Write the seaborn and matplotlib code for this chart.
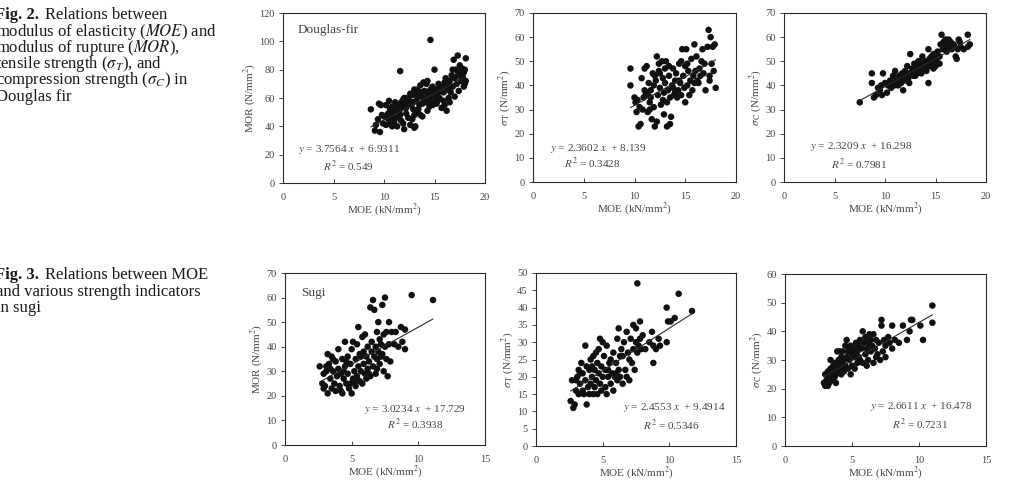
import matplotlib
matplotlib.use("Agg")
import matplotlib.pyplot as plt
import seaborn as sns
import pandas as pd
import numpy as np

# ---- Douglas-fir (Fig. 2) : MOE (kN/mm2) vs strength (N/mm2) ----
dfir_mor = [
    (8.7, 52), (9.1, 37), (9.6, 36), (9.2, 41), (9.5, 56), (9.7, 55), (9.8, 48), (10.0, 47), (9.9, 42), (9.4, 45),
    (10.2, 41), (10.3, 46), (10.5, 58), (10.6, 52), (10.4, 49), (10.7, 44), (10.8, 40), (10.9, 48), (11.0, 50),
    (10.5, 42), (10.2, 55), (10.8, 54), (11.0, 43), (10.6, 47),
    (11.1, 57), (11.2, 46), (11.3, 40), (11.5, 50), (11.6, 79), (11.7, 44), (11.8, 53), (11.9, 59), (12.0, 38),
    (11.4, 55), (11.6, 48), (11.9, 42), (12.0, 60), (11.2, 52), (11.7, 57),
    (12.1, 56), (12.2, 49), (12.3, 60), (12.4, 46), (12.5, 58), (12.6, 41), (12.7, 55), (12.8, 62), (12.9, 52),
    (13.0, 39), (13.0, 48), (12.2, 53), (12.6, 63), (12.8, 45), (12.4, 59), (12.9, 57), (13.0, 66),
    (13.1, 40), (13.2, 58), (13.3, 66), (13.4, 52), (13.5, 61), (13.6, 48), (13.7, 64), (13.8, 56), (13.9, 71),
    (14.0, 59), (13.2, 62), (13.5, 55), (13.8, 47), (14.0, 65), (13.6, 69), (13.3, 50), (13.9, 60),
    (14.1, 57), (14.2, 70), (14.3, 51), (14.4, 62), (14.5, 58), (14.6, 101), (14.6, 66), (14.7, 60), (14.8, 55),
    (14.9, 64), (15.0, 80), (15.0, 59), (14.2, 64), (14.5, 54), (14.8, 68), (14.3, 72), (14.9, 57),
    (15.1, 66), (15.2, 56), (15.3, 63), (15.4, 70), (15.5, 60), (15.6, 65), (15.7, 53), (15.8, 68), (15.9, 58),
    (16.0, 71), (15.2, 62), (15.5, 67), (15.9, 64), (15.3, 58), (16.0, 55),
    (16.1, 74), (16.2, 51), (16.3, 66), (16.4, 60), (16.5, 72), (16.6, 64), (16.7, 76), (16.8, 68), (16.9, 87),
    (17.0, 61), (16.2, 70), (16.5, 57), (16.8, 80), (17.0, 74), (16.4, 68),
    (17.1, 80), (17.2, 70), (17.3, 90), (17.4, 65), (17.5, 78), (17.6, 72), (17.7, 81), (17.8, 75), (17.9, 68),
    (18.0, 80), (18.1, 88), (18.1, 72), (17.3, 76), (17.6, 79), (17.9, 78), (18.0, 70), (17.5, 83),
]
dfir_st = [
    (9.6, 47), (9.6, 40), (10.0, 35), (10.2, 29), (10.4, 23), (10.6, 24), (10.3, 34), (10.7, 43), (10.9, 35),
    (10.5, 31), (11.0, 38), (10.8, 30), (11.0, 47), (10.1, 33),
    (11.1, 36), (11.2, 48), (11.3, 29), (11.4, 41), (11.5, 33), (11.6, 38), (11.7, 26), (11.8, 45), (11.9, 31),
    (12.0, 44), (11.3, 37), (11.6, 35), (11.9, 40), (11.5, 30), (12.0, 23),
    (12.1, 42), (12.2, 52), (12.3, 36), (12.4, 46), (12.5, 39), (12.6, 32), (12.7, 50), (12.8, 43), (12.9, 37),
    (13.0, 47), (12.2, 25), (12.5, 45), (12.8, 34), (13.0, 41), (12.4, 49), (12.9, 28),
    (13.1, 50), (13.2, 23), (13.3, 38), (13.4, 44), (13.5, 35), (13.6, 27), (13.7, 40), (13.8, 47), (13.9, 36),
    (14.0, 42), (13.2, 33), (13.5, 24), (13.8, 39), (14.0, 37), (13.4, 48),
    (14.1, 45), (14.3, 38), (14.4, 49), (14.5, 41), (14.6, 36), (14.7, 55), (14.8, 44), (14.9, 39), (15.0, 48),
    (14.2, 35), (14.6, 50), (15.0, 33), (14.4, 42),
    (15.1, 55), (15.2, 40), (15.3, 46), (15.5, 42), (15.6, 51), (15.7, 38), (15.8, 44), (15.9, 57), (16.0, 46),
    (15.4, 36), (15.9, 41), (15.2, 49),
    (16.1, 52), (16.2, 42), (16.4, 47), (16.5, 44), (16.6, 50), (16.7, 55), (16.8, 45), (17.0, 38), (16.9, 49),
    (16.3, 41),
    (17.2, 56), (17.3, 63), (17.4, 42), (17.5, 60), (17.6, 49), (17.7, 56), (17.8, 46), (17.9, 57), (18.0, 39),
    (17.4, 44),
]
dfir_sc = [
    (7.5, 33), (8.7, 41), (8.7, 45), (8.9, 35), (9.1, 36), (9.3, 39), (9.5, 38), (9.8, 45), (9.7, 36), (10.0, 41),
    (10.2, 37), (10.3, 40), (10.5, 42), (10.6, 39), (10.8, 44), (10.9, 40), (11.0, 46), (11.1, 42), (11.2, 41),
    (11.4, 44), (11.5, 43), (11.7, 45), (11.8, 38), (11.9, 42), (12.0, 46), (12.1, 44), (12.2, 48), (12.3, 43),
    (12.4, 41), (12.5, 53), (12.6, 45), (12.7, 47), (12.8, 44), (12.9, 49), (13.0, 46), (13.1, 48), (13.2, 45),
    (13.3, 50), (13.4, 47), (13.5, 46), (13.6, 49), (13.7, 52), (13.8, 48), (13.9, 47), (14.0, 50), (14.1, 46),
    (14.2, 49), (14.3, 41), (14.3, 55), (14.4, 51), (14.5, 48), (14.6, 52), (14.7, 50), (14.8, 53), (14.9, 49),
    (15.0, 51), (15.1, 50), (15.2, 54), (15.3, 52), (15.4, 49), (15.5, 57), (15.6, 61), (15.7, 55), (15.8, 58),
    (15.9, 56), (16.0, 59), (16.1, 54), (16.2, 57), (16.4, 56), (16.5, 58), (16.6, 55), (16.8, 57), (17.0, 52),
    (17.1, 51), (17.2, 55), (17.3, 59), (17.5, 56), (17.8, 55), (18.2, 61), (18.4, 57), (18.2, 56),
    (12.8, 46), (13.2, 47), (13.6, 45), (14.0, 47), (14.4, 48), (14.8, 47), (13.0, 44), (13.4, 50), (12.4, 45),
    (14.6, 49), (15.0, 48), (11.6, 41), (10.4, 41), (9.6, 40), (15.4, 52), (16.3, 59), (16.9, 56), (17.4, 58),
    (12.0, 43), (11.3, 40),
]

# ---- Sugi (Fig. 3) ----
sugi_mor = [
    (2.6, 32), (2.8, 25), (2.9, 29), (3.0, 24), (3.1, 30), (3.2, 21), (3.2, 37), (3.3, 33), (3.4, 27), (3.5, 23),
    (3.5, 36), (3.6, 30), (3.7, 25), (3.8, 34), (3.8, 22), (3.9, 28), (4.0, 31), (4.0, 39), (4.1, 24), (4.2, 29),
    (4.2, 22), (4.3, 35), (4.3, 21), (4.4, 27), (4.5, 42), (4.5, 32), (4.6, 25), (4.7, 36), (4.7, 29), (4.8, 23),
    (4.9, 33), (5.0, 21), (5.0, 39), (5.1, 27), (5.1, 42), (5.2, 30), (5.3, 24), (5.3, 35), (5.4, 41), (5.4, 28),
    (5.5, 32), (5.5, 48), (5.6, 26), (5.6, 37), (5.7, 30), (5.8, 44), (5.8, 25), (5.9, 33), (6.0, 29), (6.0, 45),
    (6.1, 36), (6.1, 27), (6.2, 40), (6.2, 31), (6.3, 34), (6.4, 56), (6.4, 28), (6.5, 38), (6.5, 42), (6.6, 32),
    (6.6, 59), (6.7, 36), (6.7, 55), (6.8, 29), (6.8, 40), (6.9, 46), (6.9, 35), (7.0, 38), (7.0, 50), (7.1, 43),
    (7.1, 33), (7.2, 41), (7.3, 57), (7.3, 37), (7.4, 45), (7.4, 30), (7.5, 60), (7.5, 40), (7.6, 35), (7.6, 46),
    (7.7, 28), (7.8, 41), (7.8, 50), (7.9, 34), (8.0, 46), (8.2, 41), (8.3, 46), (8.5, 40), (8.7, 48), (8.8, 42),
    (9.0, 39), (9.0, 47), (9.5, 61), (11.1, 59), (3.1, 32), (3.6, 35), (4.4, 30), (4.9, 25), (5.7, 36), (6.3, 29),
    (2.9, 23), (3.4, 31), (4.6, 34), (5.2, 26), (5.9, 38), (6.9, 31), (7.2, 36),
]
sugi_st = [
    (2.6, 13), (2.7, 19), (2.8, 11), (2.9, 12), (3.0, 16), (3.1, 20), (3.2, 15), (3.2, 22), (3.3, 18), (3.4, 24),
    (3.5, 16), (3.5, 21), (3.6, 15), (3.7, 29), (3.7, 19), (3.8, 12), (3.8, 23), (3.9, 17), (4.0, 22), (4.0, 15),
    (4.1, 25), (4.1, 18), (4.2, 20), (4.3, 15), (4.3, 26), (4.4, 22), (4.4, 17), (4.5, 27), (4.5, 19), (4.6, 24),
    (4.6, 15), (4.7, 21), (4.8, 31), (4.8, 18), (4.9, 23), (5.0, 20), (5.0, 30), (5.1, 26), (5.2, 17), (5.2, 22),
    (5.3, 15), (5.3, 29), (5.4, 20), (5.5, 24), (5.6, 18), (5.7, 21), (5.8, 16), (5.8, 27), (5.9, 20), (6.0, 24),
    (6.1, 19), (6.1, 31), (6.2, 34), (6.2, 22), (6.3, 20), (6.4, 28), (6.5, 18), (6.5, 26), (6.6, 30), (6.7, 22),
    (6.8, 20), (6.9, 27), (7.0, 25), (7.0, 19), (7.1, 31), (7.2, 24), (7.3, 35), (7.3, 28), (7.4, 22), (7.5, 30),
    (7.5, 34), (7.6, 47), (7.6, 27), (7.7, 29), (7.8, 36), (7.8, 31), (7.9, 28), (8.0, 32), (8.2, 28), (8.5, 30),
    (8.7, 33), (8.8, 24), (8.8, 29), (9.0, 28), (9.2, 31), (9.3, 29), (9.8, 40), (9.8, 30), (9.9, 36), (10.1, 36),
    (10.4, 37), (10.7, 44), (11.7, 39), (3.3, 21), (4.2, 23), (4.9, 16), (5.6, 25), (6.3, 26), (6.8, 33),
    (3.0, 19), (4.7, 28), (5.4, 22), (6.0, 21),
]
sugi_sc = [
    (2.9, 22), (3.0, 21), (3.0, 25), (3.1, 23), (3.2, 21), (3.2, 26), (3.3, 24), (3.3, 22), (3.4, 27), (3.5, 25),
    (3.5, 23), (3.6, 28), (3.6, 26), (3.7, 24), (3.7, 29), (3.8, 27), (3.8, 25), (3.9, 33), (3.9, 28), (4.0, 26),
    (4.0, 30), (4.1, 27), (4.1, 29), (4.2, 25), (4.2, 31), (4.3, 28), (4.3, 33), (4.4, 26), (4.4, 30), (4.5, 35),
    (4.5, 28), (4.6, 37), (4.6, 31), (4.7, 27), (4.7, 33), (4.8, 30), (4.9, 25), (4.9, 35), (5.0, 32), (5.0, 28),
    (5.1, 34), (5.2, 27), (5.2, 31), (5.3, 36), (5.4, 33), (5.4, 29), (5.5, 35), (5.6, 30), (5.6, 37), (5.7, 34),
    (5.8, 40), (5.8, 29), (5.9, 36), (6.0, 32), (6.0, 38), (6.1, 34), (6.2, 30), (6.2, 36), (6.3, 39), (6.4, 33),
    (6.4, 37), (6.5, 35), (6.6, 29), (6.6, 39), (6.7, 34), (6.8, 37), (6.9, 32), (7.0, 36), (7.1, 30), (7.2, 44),
    (7.2, 42), (7.3, 33), (7.4, 37), (7.5, 35), (7.5, 31), (7.7, 38), (7.8, 36), (8.0, 42), (8.0, 34), (8.2, 37),
    (8.5, 36), (8.8, 42), (9.1, 37), (9.3, 40), (9.4, 44), (9.5, 44), (10.1, 42), (10.3, 37), (11.0, 49), (11.0, 43),
    (3.4, 30), (3.8, 22), (4.1, 33), (4.8, 34), (5.5, 31), (6.1, 28), (6.8, 31), (4.4, 27), (3.6, 25), (5.3, 33),
]

# regression results printed in the panels: slope, intercept, R2
slopes = [3.7564, 2.3602, 2.3209, 3.0234, 2.4553, 2.6611]
intercepts = [6.9311, 8.139, 16.298, 17.729, 9.4914, 16.478]
slope_txt = ["3.7564", "2.3602", "2.3209", "3.0234", "2.4553", "2.6611"]
icpt_txt = ["6.9311", "8.139", "16.298", "17.729", "9.4914", "16.478"]
r2_txt = ["0.549", "0.3428", "0.7981", "0.3938", "0.5346", "0.7231"]

sns.set_style("ticks")
plt.rcParams["font.family"] = ["Liberation Serif", "DejaVu Serif"]
plt.rcParams["mathtext.fontset"] = "stix"

W, H = 1027, 490
fig = plt.figure(figsize=(W / 100, H / 100), dpi=100)

def px_axes(l, t, r, b):
    return fig.add_axes([l / W, 1 - b / H, (r - l) / W, (b - t) / H])

rects = [(283, 13, 485, 183), (533, 13, 736, 182), (784, 13, 986, 182),
         (285, 273, 485, 445), (536, 273, 736, 446), (785, 274, 986, 446)]
datasets = [dfir_mor, dfir_st, dfir_sc, sugi_mor, sugi_st, sugi_sc]
xmaxs = [20, 20, 20, 15, 15, 15]
ymaxs = [120, 70, 70, 70, 50, 60]
ysteps = [20, 10, 10, 10, 5, 10]
ylabels = ["MOR (N/mm$^2$)", r"$\sigma_{\,\mathrm{T}}$ (N/mm$^2$)", r"$\sigma_{\,\mathrm{C}}$ (N/mm$^2$)",
           "MOR (N/mm$^2$)", r"$\sigma_{\,\mathrm{T}}$ (N/mm$^2$)", r"$\sigma_{\,\mathrm{C}}$ (N/mm$^2$)"]
eq_pos = [(0.072, 0.197), (0.082, 0.198), (0.131, 0.208), (0.395, 0.204), (0.437, 0.22), (0.424, 0.229)]
r2_pos = [(0.198, 0.098), (0.154, 0.109), (0.235, 0.105), (0.512, 0.117), (0.537, 0.12), (0.53, 0.128)]
tags = {0: ("Douglas-fir", 0.072, 0.898), 3: ("Sugi", 0.083, 0.883)}

ink = "#2a2a2a"
grey = "#444444"

for i, pts in enumerate(datasets):
    ax = px_axes(*rects[i])
    d = pd.DataFrame(pts, columns=["moe", "strength"])
    sns.scatterplot(data=d, x="moe", y="strength", ax=ax, color="#111111",
                    s=22, edgecolor="none", linewidth=0)
    xs = np.array([d["moe"].min(), d["moe"].max()])
    sns.lineplot(x=xs, y=slopes[i] * xs + intercepts[i], ax=ax, color=ink, linewidth=0.8)
    ax.set_xlim(0, xmaxs[i])
    ax.set_ylim(0, ymaxs[i])
    ax.set_xticks(np.arange(0, xmaxs[i] + 1, 5))
    ax.set_yticks(np.arange(0, ymaxs[i] + 1, ysteps[i]))
    ax.tick_params(axis="x", direction="in", length=3, width=0.7, pad=7, labelsize=7.5, colors=grey)
    ax.tick_params(axis="y", direction="out", length=3, width=0.7, pad=3, labelsize=7.5, colors=grey)
    for sp in ax.spines.values():
        sp.set_visible(True)
        sp.set_color(ink)
        sp.set_linewidth(0.8)
    ax.set_xlabel("MOE (kN/mm$^2$)", fontsize=8, color=grey, labelpad=0)
    ax.set_ylabel(ylabels[i], fontsize=8, color=grey, labelpad=1)
    ax.text(*eq_pos[i], f"$y$ = {slope_txt[i]} $x$  + {icpt_txt[i]}", transform=ax.transAxes,
            fontsize=8, color=grey, va="center", ha="left")
    ax.text(*r2_pos[i], f"$R^2$ = {r2_txt[i]}", transform=ax.transAxes,
            fontsize=8, color=grey, va="center", ha="left")
    if i in tags:
        t, tx, ty = tags[i]
        ax.text(tx, ty, t, transform=ax.transAxes, fontsize=9.5, color=grey, va="center", ha="left")

# captions on the left
cap2 = ["modulus of elasticity ($MOE$) and", "modulus of rupture ($MOR$),",
        r"tensile strength ($\sigma_T$), and", r"compression strength ($\sigma_C$) in", "Douglas fir"]
cap3 = ["and various strength indicators", "in sugi"]

def px_text(x, y, s, **kw):
    fig.text(x / W, 1 - y / H, s, va="center", ha="left", fontsize=12, color="#1a1a1a", **kw)

px_text(-5, 15, "Fig. 2.", fontweight="bold")
px_text(45, 15, "Relations between")
for k, line in enumerate(cap2):
    px_text(-4, 31.5 + 16.3 * k, line)
px_text(-5, 275, "Fig. 3.", fontweight="bold")
px_text(45, 275, "Relations between MOE")
for k, line in enumerate(cap3):
    px_text(-4, 291.5 + 16.3 * k, line)

fig.savefig("out.png", dpi=100)
